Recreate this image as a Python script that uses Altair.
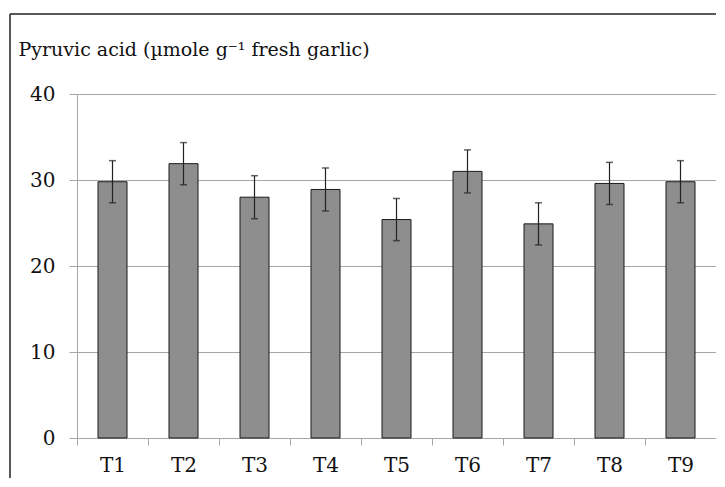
import altair as alt
import pandas as pd

treatments = ["T1", "T2", "T3", "T4", "T5", "T6", "T7", "T8", "T9"]
pyruvic = [29.8, 31.9, 28.0, 28.9, 25.4, 31.0, 24.9, 29.6, 29.8]
errors = [2.45, 2.45, 2.5, 2.5, 2.45, 2.5, 2.45, 2.45, 2.45]
y_ticks = [0, 10, 20, 30, 40]
title_text = "Pyruvic acid (\u00b5mole g\u207b\u00b9 fresh garlic)"

df = pd.DataFrame({"t": treatments, "v": pyruvic, "e": errors})

FONT = "DejaVu Serif"
GRID = "#a6a6a6"

base = alt.Chart(df).transform_calculate(
    lo="datum.v - datum.e", hi="datum.v + datum.e"
)

x_enc = alt.X(
    "t:N",
    sort=treatments,
    scale=alt.Scale(paddingInner=0, paddingOuter=0),
    axis=alt.Axis(
        title=None,
        labelAngle=0,
        labelPadding=10,
        tickBand="extent",
        tickSize=7,
        grid=False,
    ),
)

bars = base.mark_bar(
    width=29, color="#8e8e8e", stroke="#1a1a1a", strokeWidth=1
).encode(
    x=x_enc,
    y=alt.Y(
        "v:Q",
        scale=alt.Scale(domain=[0, 40], nice=False),
        axis=alt.Axis(
            values=y_ticks,
            title=title_text,
            titleAngle=0,
            titleAlign="left",
            titleBaseline="alphabetic",
            titleX=-59,
            titleY=-39,
            labelPadding=14,
            tickSize=8,
        ),
    ),
)

xn = alt.X("t:N", sort=treatments)
rules = base.mark_rule(color="#222", strokeWidth=1.2).encode(
    x=xn, y="lo:Q", y2="hi:Q"
)
caps_hi = base.mark_tick(color="#222", size=7, thickness=1.5).encode(
    x=xn, y="hi:Q"
)
caps_lo = base.mark_tick(color="#222", size=7, thickness=1.5).encode(
    x=xn, y="lo:Q"
)

one = alt.Data(values=[{"a": 1}])
border_left = alt.Chart(one).mark_rule(color="#222", strokeWidth=1.5).encode(
    x=alt.value(-67), y=alt.value(-80), y2=alt.value(420)
)
border_top = alt.Chart(one).mark_rule(color="#222", strokeWidth=1.5).encode(
    x=alt.value(-67), x2=alt.value(700), y=alt.value(-80)
)

chart = (
    alt.layer(bars, rules, caps_hi, caps_lo, border_left, border_top)
    .properties(
        width=639,
        height=344,
        autosize=alt.AutoSizeParams(type="none"),
        padding={"left": 69, "top": 86, "right": 0, "bottom": 40},
    )
    .configure(background="white", font=FONT)
    .configure_view(stroke=None)
    .configure_axis(
        labelFontSize=20,
        labelColor="#111",
        titleFontSize=19,
        titleFontWeight="normal",
        titleColor="#111",
        tickColor=GRID,
        domainColor=GRID,
        gridColor=GRID,
        gridWidth=1,
        gridOpacity=1,
    )
)

chart.save("out.html", embed_options={"renderer": "svg", "actions": False})
